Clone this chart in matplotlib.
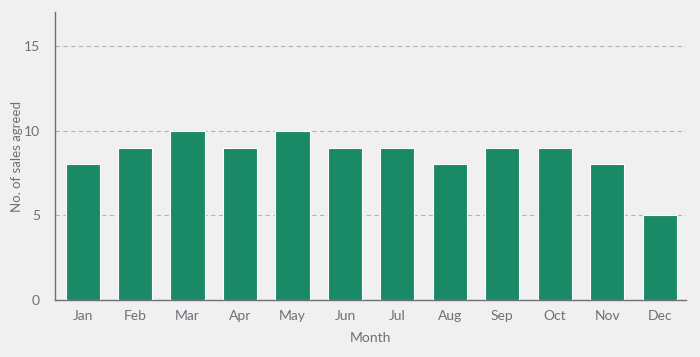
import matplotlib.pyplot as plt

months = ["Jan", "Feb", "Mar", "Apr", "May", "Jun", "Jul", "Aug", "Sep", "Oct", "Nov", "Dec"]
sales = [8, 9, 10, 9, 10, 9, 9, 8, 9, 9, 8, 5]

plt.rcParams["font.family"] = ["Lato", "DejaVu Sans"]
bg = "#f0f0f0"
txt = "#6e7079"

fig = plt.figure(figsize=(7, 3.57), dpi=100, facecolor=bg)
ax = fig.add_axes([0.079, 0.16, 0.901, 0.806], facecolor=bg)

ax.bar(range(len(months)), sales, width=0.65, color="#1a8966",
       edgecolor="#ffffff", linewidth=0.8, zorder=3)

ax.set_xlim(-0.52, 11.5)
ax.set_ylim(0, 17)
ax.set_yticks([0, 5, 10, 15])
ax.set_xticks(range(len(months)))
ax.set_xticklabels(months)
ax.grid(axis="y", linestyle=(0, (4, 3)), color="#b5b5b5", linewidth=0.8, zorder=0)

for side in ["top", "right"]:
    ax.spines[side].set_visible(False)
for side in ["left", "bottom"]:
    ax.spines[side].set_color(txt)
    ax.spines[side].set_linewidth(1)

ax.tick_params(length=0, colors=txt, labelsize=10, pad=7)
ax.tick_params(axis="y", pad=11)
ax.set_xlabel("Month", color=txt, fontsize=10)
ax.set_ylabel("No. of sales agreed", color=txt, fontsize=9.5)
ax.xaxis.set_label_coords(0.5, -0.11)
ax.yaxis.set_label_coords(-0.052, 0.5)

fig.savefig("out.png", dpi=100, facecolor=bg)
